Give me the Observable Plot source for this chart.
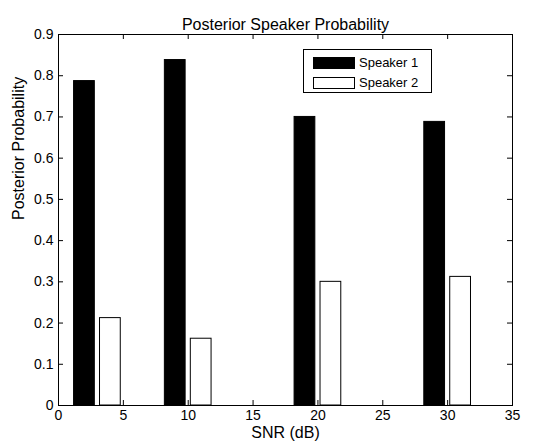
<!DOCTYPE html>
<html>
<head>
<meta charset="utf-8">
<script src="https://cdn.jsdelivr.net/npm/d3@7"></script>
<script src="https://cdn.jsdelivr.net/npm/@observablehq/plot@0.6"></script>
<style>
  body { margin: 0; background: #fff; }
  #wrap { position: relative; width: 539px; height: 444px; font-family: "Liberation Sans", Arial, Helvetica, sans-serif; }
  #legend { position: absolute; left: 303px; top: 49px; width: 129px; height: 44px; border: 1px solid #000; background: #fff; box-sizing: border-box; }
  .row { position: absolute; left: 9px; height: 13px; display: flex; align-items: center; font-size: 13px; color: #000; }
  .sw { width: 42px; height: 12px; box-sizing: border-box; border: 1px solid #000; margin-right: 4px; }
</style>
</head>
<body>
<div id="wrap"></div>
<script>
const snr = [3, 10, 20, 30];
const speaker1 = [0.787, 0.838, 0.700, 0.688];
const speaker2 = [0.212, 0.162, 0.300, 0.312];
const seriesNames = ["Speaker 1", "Speaker 2"];
const xTicks = [0, 5, 10, 15, 20, 25, 30, 35];
const yTicks = [0, 0.1, 0.2, 0.3, 0.4, 0.5, 0.6, 0.7, 0.8, 0.9];
const titleText = "Posterior Speaker Probability";
const xLabel = "SNR (dB)";
const yLabel = "Posterior Probability";

const W = 539, H = 444;
const mt = 34, mb = 39, ml = 58, mr = 27;
const fw = W - ml - mr, fh = H - mt - mb;
const offset = 1, half = 0.8, tl = 5;

const d1 = snr.map((s, i) => ({s, v: speaker1[i]}));
const d2 = snr.map((s, i) => ({s, v: speaker2[i]}));

const chart = Plot.plot({
  width: W, height: H,
  marginTop: mt, marginBottom: mb, marginLeft: ml, marginRight: mr,
  style: {fontFamily: '"Liberation Sans", Arial, Helvetica, sans-serif', background: "#fff", color: "#000"},
  x: {domain: [0, 35]},
  y: {domain: [0, 0.9]},
  marks: [
    Plot.rectY(d1, {x1: d => d.s - offset - half, x2: d => d.s - offset + half, y1: 0, y2: "v", fill: "#000", stroke: "#000", strokeWidth: 1}),
    Plot.rectY(d2, {x1: d => d.s + offset - half, x2: d => d.s + offset + half, y1: 0, y2: "v", fill: "#fff", stroke: "#000", strokeWidth: 1}),
    Plot.tickX(xTicks, {x: d => d, insetTop: fh - tl, stroke: "#000"}),
    Plot.tickX(xTicks, {x: d => d, insetBottom: fh - tl, stroke: "#000"}),
    Plot.tickY(yTicks, {y: d => d, insetRight: fw - tl, stroke: "#000"}),
    Plot.tickY(yTicks, {y: d => d, insetLeft: fw - tl, stroke: "#000"}),
    Plot.frame({stroke: "#000", strokeWidth: 1}),
    Plot.axisX({ticks: xTicks, tickSize: 0, tickPadding: 5, fontSize: 14, label: null, tickFormat: d => String(d)}),
    Plot.axisY({ticks: yTicks, tickSize: 0, tickPadding: 5, fontSize: 14, label: null, tickFormat: d => d === 0 ? "0" : d3.format(".1f")(d)}),
    Plot.text([titleText], {frameAnchor: "top", dy: -16, fontSize: 16, fill: "#000"}),
    Plot.text([xLabel], {frameAnchor: "bottom", dy: 32, fontSize: 16, fill: "#000"}),
    Plot.text([yLabel], {frameAnchor: "left", dx: -40, rotate: -90, fontSize: 16, fill: "#000"})
  ]
});

const wrap = document.getElementById("wrap");
wrap.appendChild(chart);

const legend = document.createElement("div");
legend.id = "legend";
const fills = ["#000", "#fff"];
seriesNames.forEach((name, i) => {
  const row = document.createElement("div");
  row.className = "row";
  row.style.top = (6 + i * 20) + "px";
  const sw = document.createElement("div");
  sw.className = "sw";
  sw.style.background = fills[i];
  row.appendChild(sw);
  const t = document.createElement("span");
  t.textContent = name;
  row.appendChild(t);
  legend.appendChild(row);
});
wrap.appendChild(legend);
</script>
</body>
</html>
